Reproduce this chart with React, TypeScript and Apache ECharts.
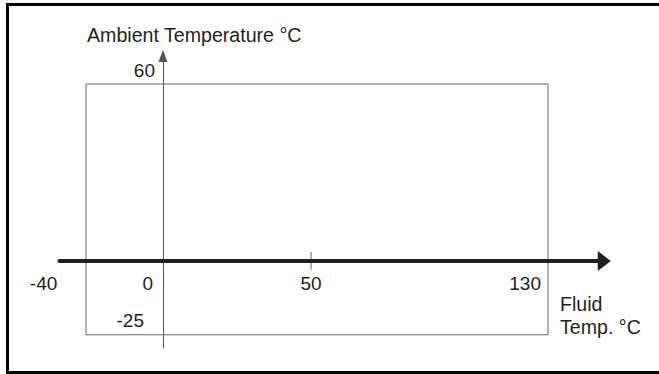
import React, { useEffect, useRef } from "react";
import * as echarts from "echarts";

// ---- data ----
const fluidTempLabels = [-40, 0, 50, 130];
const ambientTempLabels = [60, -25];
const envelopeFluidRange = [-26, 130]; // drawn position of the envelope box (not to scale on the left)
const envelopeAmbientRange = [-25, 60];
const fluidMidTicks = [50];
const xAxisTitle = "Fluid\nTemp. °C";
const yAxisTitle = "Ambient Temperature °C";

const FONT = "'Liberation Sans', Arial, Helvetica, sans-serif";
const TEXT = "#231f20";
const GRAY = "#666666";
const FS = 19;
const FS_TITLE = 19.6;

export default function App() {
  const ref = useRef<HTMLDivElement>(null);

  useEffect(() => {
    const chart = echarts.init(ref.current!, null, { renderer: "svg" });
    const [fx0, fx1] = envelopeFluidRange;
    const [ay0, ay1] = envelopeAmbientRange;
    const envelope = [
      [fx0, ay0],
      [fx0, ay1],
      [fx1, ay1],
      [fx1, ay0],
      [fx0, ay0],
    ];

    // label placement styles (by index)
    const xLabelPlacement = [
      { align: "center", offset: [-1, 22] },
      { align: "right", offset: [-10, 22.5] },
      { align: "center", offset: [0, 22] },
      { align: "right", offset: [-7, 22.5] },
    ];
    const yLabelPlacement = [
      { align: "right", offset: [-8, -14] },
      { align: "right", offset: [-19, -14] },
    ];

    const labelData = [
      ...fluidTempLabels.map((v, i) => ({
        value: [v, 0],
        name: String(v),
        label: xLabelPlacement[i],
      })),
      ...ambientTempLabels.map((v, i) => ({
        value: [0, v],
        name: String(v),
        label: yLabelPlacement[i],
      })),
    ];

    const option: any = {
      animation: false,
      backgroundColor: "#ffffff",
      grid: {
        left: 59.35,
        top: 55.975,
        width: 544.9,
        height: 292.05,
        containLabel: false,
        outerBoundsMode: "none",
      },
      xAxis: {
        type: "value",
        min: -35,
        max: 149,
        z: 10,
        axisLine: {
          show: true,
          onZero: true,
          symbol: ["none", "triangle"],
          symbolSize: [20, 13],
          lineStyle: { color: TEXT, width: 4 },
        },
        axisTick: { show: false },
        axisLabel: { show: false },
        splitLine: { show: false },
      },
      yAxis: {
        type: "value",
        min: -29.5,
        max: 69.5,
        z: 5,
        axisLine: {
          show: true,
          onZero: true,
          symbol: ["none", "triangle"],
          symbolSize: [9, 12],
          lineStyle: { color: "#555555", width: 1 },
        },
        axisTick: { show: false },
        axisLabel: { show: false },
        splitLine: { show: false },
      },
      series: [
        {
          type: "line",
          data: envelope,
          showSymbol: false,
          symbol: "none",
          lineStyle: { color: GRAY, width: 1 },
          z: 2,
          silent: true,
        },
        ...fluidMidTicks.map((t) => ({
          type: "line",
          data: [
            [t, -3],
            [t, 3],
          ],
          showSymbol: false,
          symbol: "none",
          lineStyle: { color: GRAY, width: 1 },
          z: 3,
          silent: true,
        })),
        {
          type: "scatter",
          data: labelData,
          symbolSize: 1,
          clip: false,
          itemStyle: { color: "#ffffff", opacity: 0 },
          silent: true,
          z: 20,
          label: {
            show: true,
            position: "inside",
            formatter: (p: any) => p.name,
            fontFamily: FONT,
            fontSize: FS,
            color: TEXT,
            opacity: 1,
            textBorderWidth: 0,
            verticalAlign: "middle",
          },
        },
      ],
      graphic: [
        {
          type: "rect",
          shape: { x: 7.5, y: 4.5, width: 700, height: 368 },
          style: { fill: "none", stroke: "#000000", lineWidth: 3 },
          silent: true,
        },
        {
          type: "text",
          x: 87,
          y: 34.5,
          style: {
            text: yAxisTitle,
            font: `${FS_TITLE}px ${FONT}`,
            fill: TEXT,
            verticalAlign: "middle",
            align: "left",
          },
          silent: true,
        },
        {
          type: "text",
          x: 560,
          y: 315.5,
          style: {
            text: xAxisTitle,
            font: `${FS_TITLE}px ${FONT}`,
            fill: TEXT,
            lineHeight: 23,
            verticalAlign: "middle",
            align: "left",
          },
          silent: true,
        },
      ],
    };

    chart.setOption(option);
    return () => chart.dispose();
  }, []);

  return (
    <div
      ref={ref}
      style={{ position: "fixed", left: 0, top: 0, width: 659, height: 374 }}
    />
  );
}
